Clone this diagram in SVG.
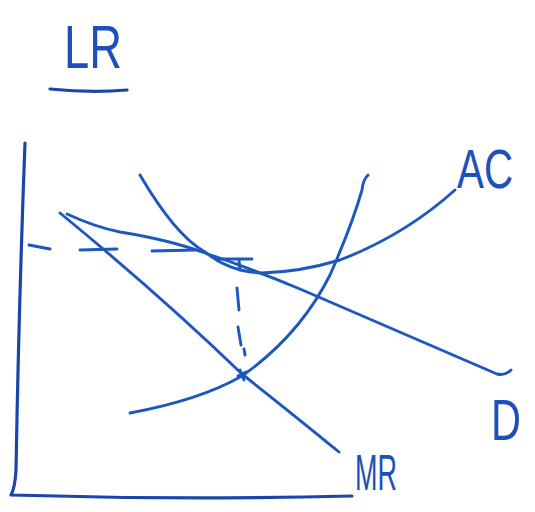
<svg xmlns="http://www.w3.org/2000/svg" width="535" height="512" viewBox="0 0 535 512">
<style>
.c{fill:none;stroke:#1c58bf;stroke-width:2.9;stroke-linecap:round;stroke-linejoin:round}
.ax{fill:none;stroke:#1a46ac;stroke-width:3.2;stroke-linecap:round;stroke-linejoin:round}
.t{font-family:"Liberation Sans",Arial,sans-serif;fill:#1d50ba;font-weight:normal}
</style>
<rect width="535" height="512" fill="#ffffff"/>
<g id="title">
<text class="t" x="64" y="68" font-size="62" textLength="58" lengthAdjust="spacingAndGlyphs">LR</text>
<path class="ax" d="M50 89 Q90 93 127 90"/>
</g>
<g id="axes">
<path class="ax" d="M25 143 Q19 300 16 470 Q15 488 11 495 Q180 500 352 496"/>
</g>
<g id="connectors">
<path id="price-dash" class="c" d="M29 245 L50 249 M80 250 L117 249 M152 251 L195 250 M217 259 L252 259 M239 260 L240 270"/>
<path id="qty-dash" class="c" d="M237 288 L239 310 M238 327 L241 345 M244 349 L245 355 M240 370 L244 380 M238 376 L246 372"/>
</g>
<g id="D">
<path class="c" d="M67 214 Q95 227 120 232 Q170 240 205 253 Q255 270 300 289 L497 374 Q505 376 511 370"/>
<text class="t" x="491" y="440" font-size="58" textLength="30" lengthAdjust="spacingAndGlyphs">D</text>
</g>
<g id="MR">
<path class="c" d="M60 213 Q160 295 242 374 Q300 420 339 452"/>
<text class="t" x="355" y="490" font-size="50" textLength="42" lengthAdjust="spacingAndGlyphs">MR</text>
</g>
<g id="AC">
<path class="c" d="M140 175 Q175 235 205 252 Q230 272 262 273 Q300 272 340 260 Q405 235 455 190"/>
<text class="t" x="457" y="188" font-size="56" textLength="56" lengthAdjust="spacingAndGlyphs">AC</text>
</g>
<g id="MC">
<path class="c" d="M130 413 Q200 400 242 376 Q300 335 330 275 Q352 225 362 190 Q363 180 368 175"/>
</g>
</svg>
